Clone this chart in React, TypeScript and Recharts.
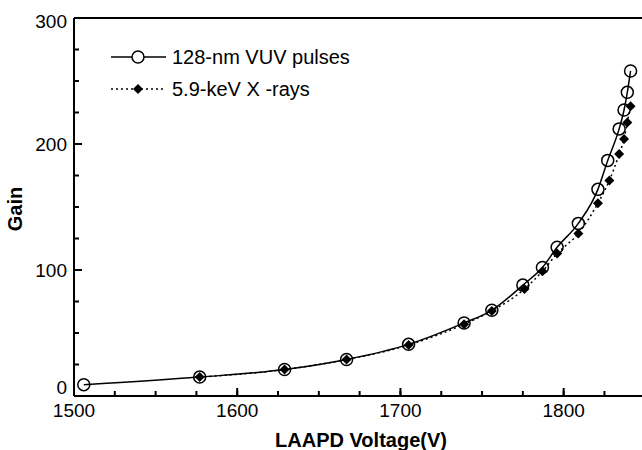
import React from "react";
import { ComposedChart, Line, Scatter, XAxis, YAxis, ReferenceLine } from "recharts";

// 128-nm VUV pulses (open circles, solid line)
const vuvVoltage = [1506, 1577, 1629, 1667, 1705, 1739, 1756, 1775, 1787, 1796, 1809, 1821, 1827, 1834, 1837, 1839, 1841];
const vuvGain = [9, 15, 21, 29, 41, 58, 68, 88, 102, 118, 137, 164, 187, 212, 227, 241, 258];

// 5.9-keV X-rays (filled diamonds, dotted line)
const xrayVoltage = [1577, 1629, 1667, 1705, 1739, 1756, 1776, 1787, 1796, 1809, 1821, 1828, 1834, 1837, 1839, 1841];
const xrayGain = [15, 21, 29, 40.5, 57, 67.5, 85, 99, 113, 129, 153, 171, 192, 204, 217, 230];

const xTicks = [1500, 1525, 1550, 1575, 1600, 1625, 1650, 1675, 1700, 1725, 1750, 1775, 1800, 1825];
const xMajor = [1500, 1600, 1700, 1800];
const yTicks = [0, 25, 50, 75, 100, 125, 150, 175, 200, 225, 250, 275, 300];
const yMajor = [0, 100, 200, 300];

const vuvData = vuvVoltage.map((v, i) => ({ v, gain: vuvGain[i] }));
const xrayData = xrayVoltage.map((v, i) => ({ v, gain: xrayGain[i] }));

// longer inward marks for the labelled ticks, placed through the chart scales
const yMarks = yMajor.filter((t) => t > 0 && t < 300).map((t) => ({ v: 1500, gain: t }));
const xMarks = xMajor.filter((t) => t > 1500).map((t) => ({ v: t, gain: 0 }));

const FONT = "'Liberation Sans', Arial, Helvetica, sans-serif";
const tickStyle = { fontSize: 19, fill: "#000", fontFamily: FONT };

const YTick = (props: any) => {
  const { x, y, payload } = props;
  const v = payload.value;
  if (!yMajor.includes(v)) return <g />;
  // end labels sit a little inside the frame, as in the original
  const shift = v === 300 ? 3 : v === 0 ? -9 : 0;
  return (
    <text x={x} y={y + shift} textAnchor="end" dominantBaseline="central" fontSize={19} fontFamily={FONT} fill="#000">
      {v}
    </text>
  );
};

const YMark = (props: any) => {
  const { cx, cy } = props;
  return <rect x={cx} y={cy - 1} width={8} height={2} fill="#000" />;
};

const XMark = (props: any) => {
  const { cx, cy } = props;
  return <rect x={cx - 1} y={cy - 8} width={2} height={8} fill="#000" />;
};

const Diamond = (props: any) => {
  const { cx, cy, index } = props;
  if (cx == null || cy == null) return <g key={index} />;
  const s = 5;
  return (
    <path
      key={index}
      d={`M${cx},${cy - s}L${cx + s},${cy}L${cx},${cy + s}L${cx - s},${cy}Z`}
      fill="#000"
    />
  );
};

const App = () => {
  return (
    <div style={{ position: "absolute", left: 0, top: 0, width: 642, height: 450, background: "#fff" }}>
      <ComposedChart width={642} height={450} margin={{ top: 18, right: 0, bottom: 0, left: 0 }}>
        <XAxis
          dataKey="v"
          type="number"
          domain={[1500, 1848]}
          allowDataOverflow
          ticks={xTicks}
          interval={0}
          tickSize={-5}
          tickMargin={13}
          tickLine={{ stroke: "#000", strokeWidth: 2 }}
          tick={tickStyle}
          tickFormatter={(v: number) => (xMajor.includes(v) ? String(v) : "")}
          height={54}
          axisLine={{ stroke: "#000", strokeWidth: 2 }}
        />
        <YAxis
          type="number"
          domain={[0, 300]}
          allowDataOverflow
          ticks={yTicks}
          interval={0}
          tickSize={-5}
          tickMargin={12}
          tickLine={{ stroke: "#000", strokeWidth: 2 }}
          tick={<YTick />}
          width={74}
          axisLine={{ stroke: "#000", strokeWidth: 2 }}
        />
        <ReferenceLine y={300} stroke="#000" strokeWidth={2} ifOverflow="visible" />
        <Scatter data={yMarks} dataKey="gain" shape={YMark} isAnimationActive={false} />
        <Scatter data={xMarks} dataKey="gain" shape={XMark} isAnimationActive={false} />
        <Line
          data={vuvData}
          dataKey="gain"
          type="monotone"
          stroke="#000"
          strokeWidth={1.5}
          dot={{ r: 6, fill: "none", stroke: "#000", strokeWidth: 1.5 }}
          isAnimationActive={false}
        />
        <Line
          data={xrayData}
          dataKey="gain"
          type="monotone"
          stroke="#000"
          strokeWidth={1.5}
          strokeDasharray="2 3"
          dot={Diamond}
          isAnimationActive={false}
        />
      </ComposedChart>
      <svg width={642} height={450} style={{ position: "absolute", left: 0, top: 0, pointerEvents: "none" }}>
        <g fontFamily={FONT} fill="#000">
          <text x={15} y={209} transform="rotate(-90, 15, 209)" textAnchor="middle" dominantBaseline="central" fontSize={20} fontWeight="bold">
            Gain
          </text>
          <text x={361} y={440} textAnchor="middle" dominantBaseline="central" fontSize={20} fontWeight="bold">
            LAAPD Voltage(V)
          </text>
        </g>
        <g fontFamily={FONT} fontSize={20} fill="#000">
          <line x1={111} x2={166} y1={57} y2={57} stroke="#000" strokeWidth={1.5} />
          <circle cx={138} cy={57} r={6} fill="#fff" stroke="#000" strokeWidth={1.5} />
          <text x={172} y={57} dominantBaseline="central">128-nm VUV pulses</text>
          <line x1={111} x2={164} y1={89} y2={89} stroke="#000" strokeWidth={1.5} strokeDasharray="2 3" />
          <path d="M138,84L143,89L138,94L133,89Z" fill="#000" />
          <text x={172} y={89} dominantBaseline="central">5.9-keV X -rays</text>
        </g>
      </svg>
    </div>
  );
};

export default App;
